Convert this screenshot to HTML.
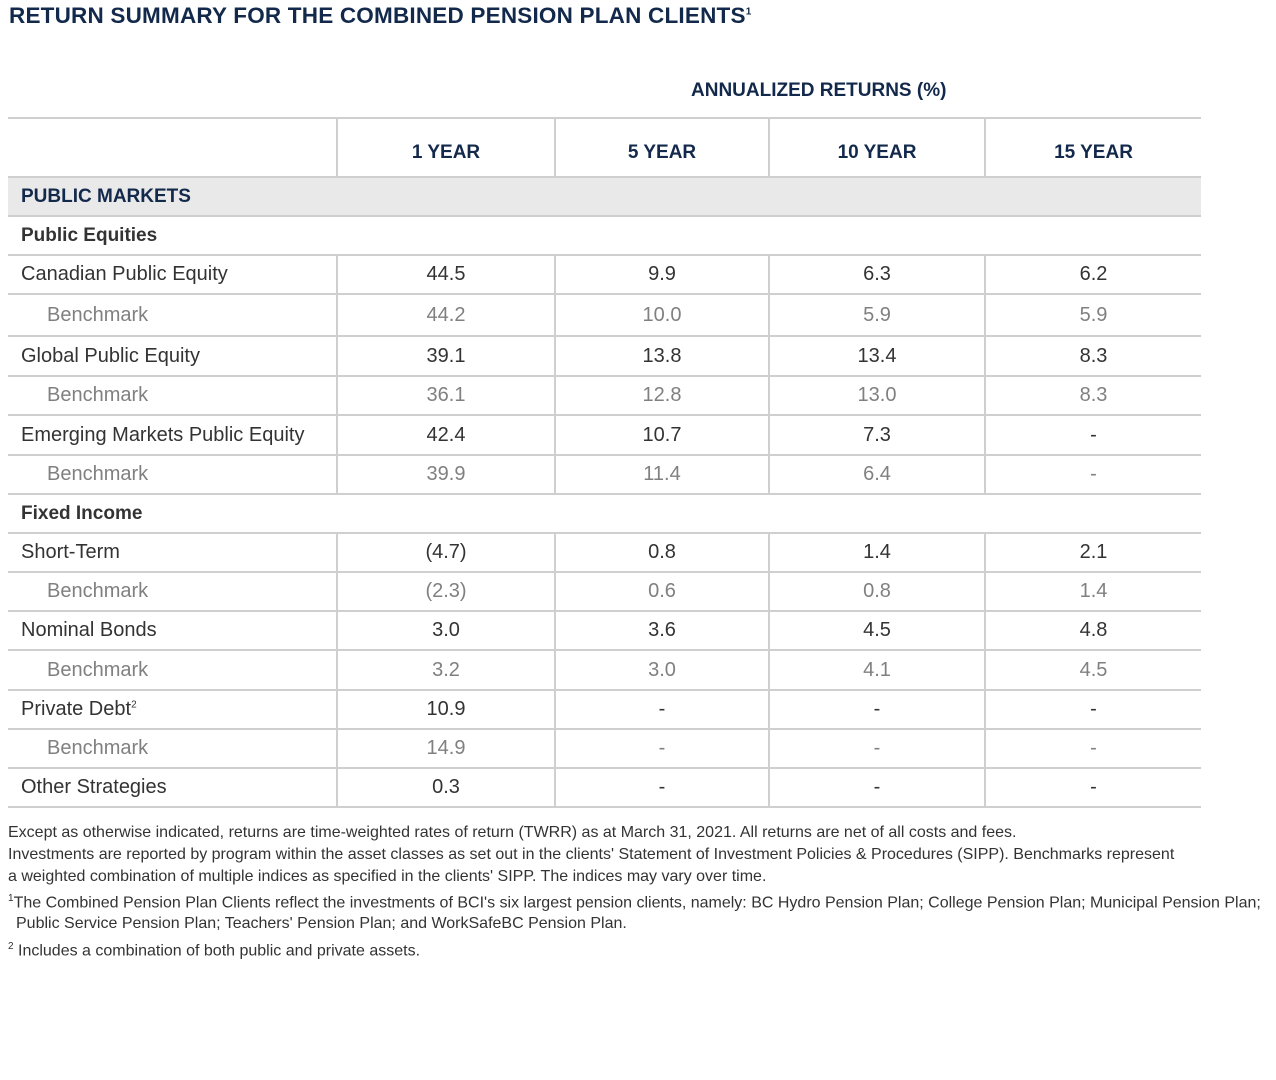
<!DOCTYPE html>
<html><head><meta charset="utf-8"><style>
body{margin:0;width:1276px;height:1080px;background:#fff;font-family:"Liberation Sans",sans-serif;position:relative;overflow:hidden;color:#333}
.t{position:absolute;left:9px;top:3px;font-size:22.5px;font-weight:bold;color:#13294b;letter-spacing:0.2px;white-space:nowrap}
.ar{position:absolute;left:691px;top:80px;font-size:19px;font-weight:bold;color:#13294b;white-space:nowrap}
table{position:absolute;left:8px;top:117px;width:1193px;border-collapse:collapse;table-layout:fixed;font-size:20px}
td{border-top:2px solid #cfcfcf;padding:0;white-space:nowrap;text-align:center}
tr:last-child td{border-bottom:2px solid #cfcfcf}
td.v{border-left:2px solid #cfcfcf}
td.l{text-align:left;padding-left:13px}
tr.h td{font-weight:bold;color:#13294b;font-size:19px;padding-top:10px}
tr.pm td{background:#e9e9e9;font-weight:bold;color:#13294b;font-size:19px}
tr.s td{font-weight:bold;color:#333;font-size:19px}
tr.b td{color:#808080}
tr.b td.l{padding-left:39px}
.f{position:absolute;left:8px;font-size:16px;color:#333;white-space:nowrap}
sup{font-size:10px}
</style></head><body>
<div class="t">RETURN SUMMARY FOR THE COMBINED PENSION PLAN CLIENTS<sup>1</sup></div>
<div class="ar">ANNUALIZED RETURNS (%)</div>
<table>
<colgroup><col style="width:329px"><col style="width:218px"><col style="width:214px"><col style="width:216px"><col style="width:216px"></colgroup>
<tr class="h" style="height:59px"><td></td><td class="v">1 YEAR</td><td class="v">5 YEAR</td><td class="v">10 YEAR</td><td class="v">15 YEAR</td></tr>
<tr class="pm" style="height:39px"><td class="l" colspan="5">PUBLIC MARKETS</td></tr>
<tr class="s" style="height:39px"><td class="l" colspan="5">Public Equities</td></tr>
<tr style="height:39px"><td class="l">Canadian Public Equity</td><td class="v">44.5</td><td class="v">9.9</td><td class="v">6.3</td><td class="v">6.2</td></tr>
<tr class="b" style="height:42px"><td class="l">Benchmark</td><td class="v">44.2</td><td class="v">10.0</td><td class="v">5.9</td><td class="v">5.9</td></tr>
<tr style="height:40px"><td class="l">Global Public Equity</td><td class="v">39.1</td><td class="v">13.8</td><td class="v">13.4</td><td class="v">8.3</td></tr>
<tr class="b" style="height:39px"><td class="l">Benchmark</td><td class="v">36.1</td><td class="v">12.8</td><td class="v">13.0</td><td class="v">8.3</td></tr>
<tr style="height:40px"><td class="l">Emerging Markets Public Equity</td><td class="v">42.4</td><td class="v">10.7</td><td class="v">7.3</td><td class="v">-</td></tr>
<tr class="b" style="height:39px"><td class="l">Benchmark</td><td class="v">39.9</td><td class="v">11.4</td><td class="v">6.4</td><td class="v">-</td></tr>
<tr class="s" style="height:39px"><td class="l" colspan="5">Fixed Income</td></tr>
<tr style="height:39px"><td class="l">Short-Term</td><td class="v">(4.7)</td><td class="v">0.8</td><td class="v">1.4</td><td class="v">2.1</td></tr>
<tr class="b" style="height:39px"><td class="l">Benchmark</td><td class="v">(2.3)</td><td class="v">0.6</td><td class="v">0.8</td><td class="v">1.4</td></tr>
<tr style="height:39px"><td class="l">Nominal Bonds</td><td class="v">3.0</td><td class="v">3.6</td><td class="v">4.5</td><td class="v">4.8</td></tr>
<tr class="b" style="height:40px"><td class="l">Benchmark</td><td class="v">3.2</td><td class="v">3.0</td><td class="v">4.1</td><td class="v">4.5</td></tr>
<tr style="height:39px"><td class="l">Private Debt<sup>2</sup></td><td class="v">10.9</td><td class="v">-</td><td class="v">-</td><td class="v">-</td></tr>
<tr class="b" style="height:39px"><td class="l">Benchmark</td><td class="v">14.9</td><td class="v">-</td><td class="v">-</td><td class="v">-</td></tr>
<tr style="height:39px"><td class="l">Other Strategies</td><td class="v">0.3</td><td class="v">-</td><td class="v">-</td><td class="v">-</td></tr>
</table>
<div class="f" style="top:824px">Except as otherwise indicated, returns are time-weighted rates of return (TWRR) as at March 31, 2021. All returns are net of all costs and fees.</div>
<div class="f" style="top:846px">Investments are reported by program within the asset classes as set out in the clients' Statement of Investment Policies &amp; Procedures (SIPP). Benchmarks represent</div>
<div class="f" style="top:868px">a weighted combination of multiple indices as specified in the clients' SIPP. The indices may vary over time.</div>
<div class="f" style="top:893px"><sup>1</sup>The Combined Pension Plan Clients reflect the investments of BCI's six largest pension clients, namely: BC Hydro Pension Plan; College Pension Plan; Municipal Pension Plan;</div>
<div class="f" style="top:915px;left:16px">Public Service Pension Plan; Teachers' Pension Plan; and WorkSafeBC Pension Plan.</div>
<div class="f" style="top:941px"><sup>2</sup> Includes a combination of both public and private assets.</div>
</body></html>
